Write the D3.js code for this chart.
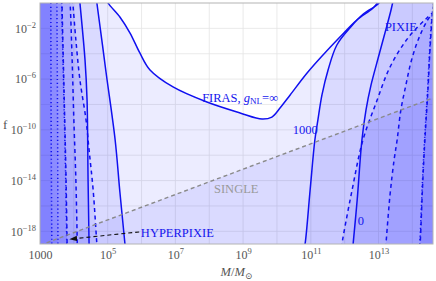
<!DOCTYPE html>
<html>
<head>
<meta charset="utf-8">
<script src="https://cdn.jsdelivr.net/npm/d3@7"></script>
<style>
  body { margin: 0; background: #fff; }
  text { font-family: "Liberation Serif", "DejaVu Serif", serif; }
</style>
</head>
<body>
<div id="chart"></div>
<script>
// all curves are [log10 M, log10 f]
var firasInf   = [[4.97,0.3],[5.01,0],[5.36,-1.10],[5.66,-2.37],[5.95,-3.94],[6.25,-5.28],[6.93,-6.62],[7.93,-7.81],[8.91,-8.67],[9.56,-9.15],[9.85,-8.99],[10.09,-8.28],[10.39,-7.25],[10.89,-5.52],[11.36,-4.10],[11.86,-2.68],[12.36,-1.34],[12.84,-0.39],[13.05,0.3]];
var firas1000L = [[4.66,0.3],[4.68,0],[4.95,-5.44],[5.22,-10.80],[5.36,-14.90],[5.51,-19.0],[5.52,-19.3]];
var firas1000R = [[10.80,-19.3],[10.83,-19.0],[10.98,-14.74],[11.12,-10.80],[11.21,-9.22],[11.33,-7.25],[11.51,-5.28],[11.77,-3.31],[12.18,-1.89],[12.55,-0.87],[13.0,-0.05],[13.06,0.3]];
var firas0L    = [[4.17,0.3],[4.18,0],[4.33,-4.49],[4.39,-7.65],[4.42,-13.95],[4.45,-19.0],[4.45,-19.3]];
var firas0R    = [[12.24,-19.3],[12.25,-19.0],[12.37,-15.53],[12.51,-10.80],[12.63,-8.44],[12.78,-6.46],[12.99,-4.34],[13.19,-2.37],[13.37,-0.55],[13.44,0.3]];

var pixieInfL  = [[3.96,0.3],[3.97,0],[4.06,-2.92],[4.18,-6.07],[4.36,-9.22],[4.45,-11.59],[4.57,-14.74],[4.68,-19.0],[4.69,-19.3]];
var pixieInfR  = [[11.91,-19.3],[11.92,-19.0],[12.22,-14.74],[12.54,-10.80],[12.96,-7.65],[13.34,-5.05],[13.87,-2.76],[14.46,-1.10],[14.8,-0.3],[14.9,0.3]];
var pixie1000L = [[3.88,0.3],[3.89,0],[3.95,-4.49],[4.0,-9.22],[4.06,-13.95],[4.10,-19.0],[4.10,-19.3]];
var pixie1000R = [[13.21,-19.3],[13.22,-19.0],[13.34,-15.14],[13.46,-12.38],[13.55,-10.80],[13.66,-8.44],[13.81,-6.46],[13.96,-4.65],[14.17,-2.92],[14.45,-1.34],[14.7,-0.5],[14.8,0.3]];
var pixie0L    = [[3.65,0.3],[3.65,0],[3.71,-6.86],[3.77,-13.95],[3.80,-19.0],[3.80,-19.3]];
var pixie0R    = [[14.22,-19.3],[14.23,-19.0],[14.31,-13.95],[14.37,-10.80],[14.46,-6.86],[14.52,-3.71],[14.58,-1.34],[14.65,0.3]];

var hyperInfL  = [[3.64,0.3],[3.64,0],[3.70,-6.86],[3.76,-13.95],[3.79,-19.0],[3.79,-19.3]];
var hyperInfR  = [[14.21,-19.3],[14.22,-19.0],[14.30,-13.95],[14.36,-10.80],[14.45,-6.86],[14.51,-3.71],[14.57,-1.34],[14.64,0.3]];
var hyper1000L = [[3.50,0.3],[3.50,0],[3.52,-10],[3.53,-19.3]];
var hyper0L    = [[3.32,0.3],[3.33,-10],[3.35,-19.3]];

var singleLine = [[3.0,-19.1],[14.61,-7.49]];
var hyperArrow = [[5.93,-18.05],[3.89,-18.61]];

var xTicks = [3,5,7,9,11,13];
var yTicks = [-2,-6,-10,-14,-18];

// labels: text, [log M, log f], colour
var labels = [
  {t:"FIRAS", p:[7.79,-7.81], c:"#1515ee"},
  {t:"PIXIE", p:[13.19,-2.21], c:"#1515ee"},
  {t:"1000", p:[10.47,-10.33], c:"#1515ee"},
  {t:"0", p:[12.39,-17.5], c:"#1515ee"},
  {t:"SINGLE", p:[8.14,-14.98], c:"#999"},
  {t:"HYPERPIXIE", p:[5.98,-18.45], c:"#1515ee"}
];

var margin = {top: 3, right: 3, bottom: 37, left: 40},
    width = 436 - margin.left - margin.right,
    height = 281 - margin.top - margin.bottom;

var svg = d3.select("#chart").append("svg")
    .attr("width", 436).attr("height", 281)
  .append("g")
    .attr("transform", "translate(" + margin.left + "," + margin.top + ")");

var x = d3.scaleLog().domain([1e3, Math.pow(10, 14.61)]).range([0, width]);
var y = d3.scaleLog().domain([1e-19, 1]).range([height, 0]);

function px(d) { return x(Math.pow(10, d[0])); }
function py(d) { return y(Math.pow(10, d[1])); }

svg.append("clipPath").attr("id", "clip")
  .append("rect").attr("width", width).attr("height", height);

var plot = svg.append("g").attr("clip-path", "url(#clip)");

// grid
plot.selectAll(".vg").data(d3.range(3, 15)).enter().append("line")
  .attr("x1", function(d) { return x(Math.pow(10, d)); })
  .attr("x2", function(d) { return x(Math.pow(10, d)); })
  .attr("y1", 0).attr("y2", height)
  .attr("stroke", "#e4e4e4").attr("stroke-width", 0.8);
plot.selectAll(".hg").data(d3.range(-18, 0, 2)).enter().append("line")
  .attr("y1", function(d) { return y(Math.pow(10, d)); })
  .attr("y2", function(d) { return y(Math.pow(10, d)); })
  .attr("x1", 0).attr("x2", width)
  .attr("stroke", "#e4e4e4").attr("stroke-width", 0.8);

var line = d3.line().x(px).y(py).curve(d3.curveCatmullRom.alpha(0.5));
var outer = "M-30,-30H" + (width + 30) + "V" + (height + 30) + "H-30Z";

// excluded regions: everything outside each curve
var regions = [
  firasInf,
  firas1000L.concat(firas1000R),
  firas0L.concat(firas0R),
  pixieInfL.concat(pixieInfR),
  pixie1000L.concat(pixie1000R),
  pixie0L.concat(pixie0R),
  hyperInfL.concat(hyperInfR),
  hyper1000L,
  hyper0L
];
var fillOp = 0.085;
regions.forEach(function(r) {
  var inner = line(r);
  if (r === hyper1000L || r === hyper0L) {
    inner += "L" + (width + 30) + "," + (height + 30) + "L" + (width + 30) + ",-30Z";
  } else {
    inner += "Z";
  }
  plot.append("path")
    .attr("d", outer + inner)
    .attr("fill-rule", "evenodd")
    .attr("fill", "rgb(30,30,255)")
    .attr("fill-opacity", fillOp);
});

// single region below line
plot.append("path")
  .attr("d", d3.line().x(px).y(py)(singleLine) + "L" + (width + 30) + "," + (height + 30) + "L-30," + (height + 30) + "Z")
  .attr("fill", "rgb(30,30,255)")
  .attr("fill-opacity", fillOp);

// curves
var solid = [firasInf, firas1000L, firas1000R, firas0L, firas0R];
var dashed = [pixieInfL, pixieInfR, pixie1000L, pixie1000R, pixie0L, pixie0R];
var dotted = [hyperInfL, hyperInfR, hyper1000L, hyper0L];

solid.forEach(function(c) {
  plot.append("path").attr("d", line(c))
    .attr("fill", "none").attr("stroke", "#1010f0").attr("stroke-width", 1.5);
});
dashed.forEach(function(c) {
  plot.append("path").attr("d", line(c))
    .attr("fill", "none").attr("stroke", "#1010f0").attr("stroke-width", 1.5)
    .attr("stroke-dasharray", "4,3.5");
});
dotted.forEach(function(c) {
  plot.append("path").attr("d", line(c))
    .attr("fill", "none").attr("stroke", "#1010f0").attr("stroke-width", 1.5)
    .attr("stroke-dasharray", "1.2,2.6");
});

plot.append("path").attr("d", d3.line().x(px).y(py)(singleLine))
  .attr("fill", "none").attr("stroke", "#8a8a8a").attr("stroke-width", 1.4)
  .attr("stroke-dasharray", "4,3");

// hyperpixie arrow
svg.append("defs").append("marker")
  .attr("id", "arr").attr("viewBox", "0 0 10 10").attr("refX", 9).attr("refY", 5)
  .attr("markerWidth", 7).attr("markerHeight", 7).attr("orient", "auto")
  .append("path").attr("d", "M0,1.5L10,5L0,8.5Z").attr("fill", "#111");
plot.append("path").attr("d", d3.line().x(px).y(py)(hyperArrow))
  .attr("fill", "none").attr("stroke", "#111").attr("stroke-width", 1.1)
  .attr("stroke-dasharray", "4,3").attr("marker-end", "url(#arr)");

// labels
labels.forEach(function(l) {
  var t = plot.append("text").attr("x", px(l.p)).attr("y", py(l.p))
    .attr("fill", l.c).style("font-size", "12.5px").text(l.t);
  if (l.t == "FIRAS") {
    t.append("tspan").text(", ");
    t.append("tspan").style("font-style", "italic").text("g");
    t.append("tspan").attr("dy", 2).style("font-size", "9px").text("NL");
    t.append("tspan").attr("dy", -2).text("=\u221e");
  }
});

// frame
svg.append("rect").attr("width", width).attr("height", height)
  .attr("fill", "none").attr("stroke", "#b4b4b4").attr("stroke-width", 1);

// axes
var xAxis = svg.append("g").attr("transform", "translate(0," + height + ")")
  .call(d3.axisBottom(x).tickValues(xTicks.map(function(d) { return Math.pow(10, d); }))
    .tickSize(0).tickPadding(6).tickFormat(""));
xAxis.select(".domain").remove();
xAxis.selectAll(".tick text").each(function(d) {
  var e = Math.round(Math.log10(d));
  var t = d3.select(this).attr("fill", "#555").style("font-size", "12px");
  if (e == 3) { t.text("1000"); return; }
  t.append("tspan").text("10");
  t.append("tspan").attr("dy", -5).style("font-size", "8.5px").text(e);
});

var yAxis = svg.append("g")
  .call(d3.axisLeft(y).tickValues(yTicks.map(function(d) { return Math.pow(10, d); }))
    .tickSize(0).tickPadding(4).tickFormat(""));
yAxis.select(".domain").remove();
yAxis.selectAll(".tick text").each(function(d) {
  var e = Math.round(Math.log10(d));
  var t = d3.select(this).attr("fill", "#555").style("font-size", "12px");
  t.append("tspan").text("10");
  t.append("tspan").attr("dy", -5).style("font-size", "8.5px").text("\u2212" + Math.abs(e));
});

// axis titles
svg.append("text").attr("x", -37).attr("y", 126).attr("fill", "#555")
  .style("font-size", "13px").text("f");
var xt = svg.append("text").attr("x", width / 2).attr("y", height + 32)
  .attr("text-anchor", "middle").attr("fill", "#555").style("font-size", "12.5px");
xt.append("tspan").style("font-style", "italic").text("M");
xt.append("tspan").text("/");
xt.append("tspan").style("font-style", "italic").text("M");
xt.append("tspan").attr("dy", 3).style("font-size", "9px").text("\u2299");
</script>
</body>
</html>
